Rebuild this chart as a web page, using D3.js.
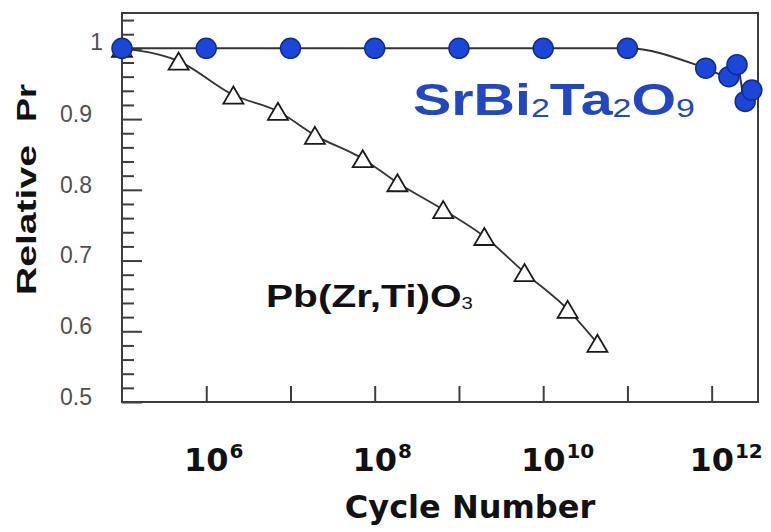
<!DOCTYPE html>
<html><head><meta charset="utf-8">
<script src="https://cdn.jsdelivr.net/npm/d3@7"></script>
<style>
body{margin:0;background:#fff;}
svg{display:block;background:#fff;}
</style></head><body>
<svg id="chart" width="771" height="532"></svg>
<script>
// Polarization fatigue: remanent polarization (relative to its initial value) vs switching cycles
const sbtCycles = [1e5, 1e6, 1e7, 1e8, 1e9, 1e10, 1e11, 8.5e11, 1.6e12, 2.0e12, 2.5e12, 3.0e12];
const sbtPr     = [1, 1, 1, 1, 1, 1, 1, 0.972, 0.960, 0.977, 0.925, 0.941];
const pztCycles = [1e5, 4.7e5, 2.1e6, 7.1e6, 1.95e7, 7.2e7, 1.86e8, 6.5e8, 2.0e9, 6.0e9, 1.95e10, 4.4e10];
const pztPr     = [1, 0.982, 0.934, 0.911, 0.877, 0.844, 0.810, 0.772, 0.734, 0.683, 0.631, 0.583];
const yTickValues = [0.5, 0.6, 0.7, 0.8, 0.9, 1];
const yTickLabels = ["0.5", "0.6", "0.7", "0.8", "0.9", "1"];
const yMinorValues = [0.52,0.54,0.56,0.58,0.62,0.64,0.66,0.68,0.72,0.74,0.76,0.78,0.82,0.84,0.86,0.88,0.92,0.94,0.96,0.98,1.02,1.04];
const xTickValues = [1e6, 1e7, 1e8, 1e9, 1e10, 1e11, 1e12];
const xLabelExponents = ["6", "8", "10", "12"];
const xLabelBase = "10";
const xTitle = "Cycle Number";
const yTitleWords = ["Relative", "Pr"];
// formula labels: [text, isSubscript]
const sbtName = [["SrBi", 0], ["2", 1], ["Ta", 0], ["2", 1], ["O", 0], ["9", 1]];
const pztName = [["Pb(Zr,Ti)O", 0], ["3", 1]];

const svg = d3.select("#chart");
const plotL = 122, plotR = 758, plotT = 13, plotB = 402;

const x = d3.scaleLog().domain([1e5, Math.pow(10, 12.55)]).range([plotL, plotR]);
const y = d3.scaleLinear().domain([0.5, 1.05]).range([plotB, plotT]);

const axisColor = "#3d3d3d";

// plot frame
svg.append("rect")
  .attr("x", plotL).attr("y", plotT)
  .attr("width", plotR - plotL).attr("height", plotB - plotT)
  .attr("fill", "none").attr("stroke", axisColor).attr("stroke-width", 2);

// y axis: minor ticks (inward), then major ticks with labels
const yMinor = svg.append("g").attr("transform", `translate(${plotL},0)`)
  .call(d3.axisLeft(y).tickValues(yMinorValues).tickSize(-12).tickFormat(""));
yMinor.select(".domain").remove();
yMinor.selectAll("line").attr("stroke", axisColor).attr("stroke-width", 2);

const yMajor = svg.append("g").attr("transform", `translate(${plotL},0)`)
  .call(d3.axisLeft(y).tickValues(yTickValues).tickSize(-20).tickPadding(30)
    .tickFormat((d, i) => yTickLabels[i]));
yMajor.select(".domain").remove();
yMajor.selectAll("line").attr("stroke", axisColor).attr("stroke-width", 2);
yMajor.selectAll("text")
  .attr("font-family", "Liberation Sans, Arial, sans-serif")
  .attr("font-size", 23).attr("fill", "#505050")
  .attr("dy", "0.1em");
yMajor.selectAll(".tick").filter(d => d === 1).select("text")
  .attr("x", -19).attr("dy", "0.05em");

// x axis ticks (inward)
const xAx = svg.append("g").attr("transform", `translate(0,${plotB})`)
  .call(d3.axisBottom(x).tickValues(xTickValues).tickSize(-16).tickFormat(""));
xAx.select(".domain").remove();
xAx.selectAll("line").attr("stroke", axisColor).attr("stroke-width", 2);

// x tick labels as powers of ten
const xFont = "DejaVu Sans, Verdana, sans-serif";
xLabelExponents.forEach(e => {
  const cx = x(Math.pow(10, +e));
  const base = svg.append("text")
    .attr("x", cx).attr("y", 471)
    .attr("text-anchor", "middle")
    .attr("font-family", xFont).attr("font-weight", "bold")
    .attr("font-size", 32).attr("fill", "#111")
    .text(xLabelBase);
  const w = base.node().getComputedTextLength();
  svg.append("text")
    .attr("x", cx + w / 2 + 1).attr("y", 458)
    .attr("font-family", xFont).attr("font-weight", "bold")
    .attr("font-size", 20).attr("fill", "#111")
    .text(e);
});

// axis titles
svg.append("text")
  .attr("x", 470).attr("y", 518)
  .attr("text-anchor", "middle")
  .attr("font-family", xFont).attr("font-weight", "bold")
  .attr("font-size", 32).attr("fill", "#111")
  .text(xTitle);

const yTitleFont = "Liberation Sans, Arial, sans-serif";
const yTitleSpans = [[yTitleWords[0], 295, 150], [yTitleWords[1], 122, 38]];
yTitleSpans.forEach(([t, y0, len]) => {
  svg.append("text")
    .attr("transform", `translate(36,${y0}) rotate(-90)`)
    .attr("font-family", yTitleFont).attr("font-weight", "bold")
    .attr("font-size", 28).attr("fill", "#111")
    .attr("textLength", len).attr("lengthAdjust", "spacingAndGlyphs")
    .text(t);
});

// series lines
const line = d3.line().x(d => x(d[0])).y(d => y(d[1])).curve(d3.curveMonotoneX);
const pzt = pztCycles.map((c, i) => [c, pztPr[i]]);
const sbt = sbtCycles.map((c, i) => [c, sbtPr[i]]);

svg.append("path").datum(pzt).attr("d", line)
  .attr("fill", "none").attr("stroke", "#333").attr("stroke-width", 1.8);

// open triangles
svg.append("g").selectAll("path").data(pzt).join("path")
  .attr("transform", d => `translate(${x(d[0])},${y(d[1])})`)
  .attr("d", "M0,-8.5 L10,8.5 L-10,8.5 Z")
  .attr("fill", "#fff").attr("stroke", "#1a1a1a").attr("stroke-width", 1.8)
  .attr("stroke-linejoin", "miter");

svg.append("path").datum(sbt).attr("d", line)
  .attr("fill", "none").attr("stroke", "#333").attr("stroke-width", 2);

// filled circles
svg.append("g").selectAll("circle").data(sbt).join("circle")
  .attr("cx", d => x(d[0])).attr("cy", d => y(d[1])).attr("r", 10)
  .attr("fill", "#1c47d6").attr("stroke", "#0f2c8f").attr("stroke-width", 1.5);

// series names, widened horizontally to the given overall width
function formula(parts, x0, y0, width, size, subSize, weight, subWeight, color) {
  const g = svg.append("g");
  const t = g.append("text")
    .attr("x", x0).attr("y", y0)
    .attr("font-family", "Liberation Sans, Arial, sans-serif")
    .attr("fill", color);
  parts.forEach(([s, sub]) => {
    t.append("tspan")
      .attr("font-size", sub ? subSize : size)
      .attr("font-weight", sub ? subWeight : weight)
      .attr("dy", sub ? 2 : -2)
      .text(s);
  });
  t.select("tspan").attr("dy", 0);
  const w = t.node().getComputedTextLength();
  const sx = width / w;
  g.attr("transform", `translate(${x0},0) scale(${sx},1) translate(${-x0},0)`);
}
formula(sbtName, 413, 115, 282, 44, 26, "bold", "normal", "#2347c0");
formula(pztName, 266, 307, 207, 32, 16, "bold", "normal", "#111");
</script>
</body></html>
